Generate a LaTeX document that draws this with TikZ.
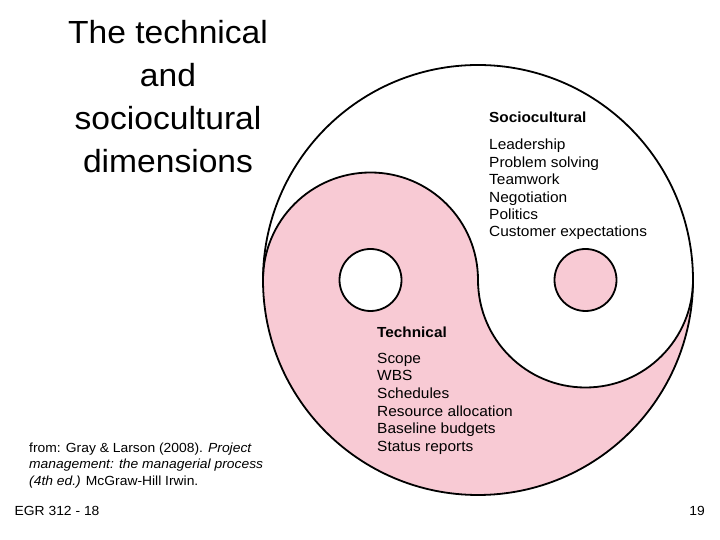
\documentclass[tikz,border=0pt]{standalone}
\usepackage{fontspec}
\setmainfont{Liberation Sans}[FakeStretch=1.05]
\definecolor{yypink}{RGB}{248,202,212}
\tikzset{
  yyline/.style={line width=1.8pt, draw=black},
  titletext/.style={anchor=base, inner sep=0pt, font=\fontsize{32}{38}\selectfont},
  listtext/.style={anchor=base west, inner sep=0pt, font=\fontsize{14.7}{17}\selectfont},
  headtext/.style={anchor=base west, inner sep=0pt, font=\fontsize{14.6}{17}\selectfont\bfseries},
  smalltext/.style={anchor=base west, inner sep=0pt, font=\fontsize{13.2}{15}\selectfont},
}
\begin{document}
\begin{tikzpicture}[x=1pt,y=1pt]
\useasboundingbox (0,0) rectangle (720,540);
% pink half of the yin-yang
\fill[yypink] (263,260) arc[start angle=180,end angle=360,radius=215]
  arc[start angle=0,end angle=-180,radius=107.5]
  arc[start angle=0,end angle=180,radius=107.5] -- cycle;
\draw[yyline] (478,260) circle[radius=215];
\draw[yyline] (263,260) arc[start angle=180,end angle=0,radius=107.5]
  arc[start angle=180,end angle=360,radius=107.5];
\filldraw[yyline, fill=white] (370.5,260) circle[radius=31];
\filldraw[yyline, fill=yypink] (585.5,260) circle[radius=31];
% title
\node[titletext] (t1) at (168,496.5) {The technical};
\node[titletext] (t2) at (168,453.5) {and};
\node[titletext] (t3) at (168,410.5) {sociocultural};
\node[titletext] (t4) at (168,367.5) {dimensions};
% sociocultural list
\node[headtext] (sh) at (489,417.3) {Sociocultural};
\foreach \t [count=\i from 0] in {Leadership,Problem solving,Teamwork,Negotiation,Politics,Customer expectations}
  \node[listtext] (s\i) at (489,390-17.35*\i) {\t};
% technical list
\node[headtext] (th) at (377,202.7) {Technical};
\foreach \t [count=\i from 0] in {Scope,WBS,Schedules,Resource allocation,Baseline budgets,Status reports}
  \node[listtext] (r\i) at (377,176.7-17.6*\i) {\t};
% citation
\node[smalltext] (c1) at (29,87.3) {from: Gray \& Larson (2008). \textit{Project}};
\node[smalltext] (c2) at (29,71) {\textit{management: the managerial process}};
\node[smalltext] (c3) at (29,54.3) {\textit{(4th ed.)} McGraw-Hill Irwin.};
\node[smalltext, anchor=base west] (egr) at (14.5,24.3) {EGR 312 - 18};
\node[smalltext, anchor=base east] (pg) at (705,24.3) {19};
\end{tikzpicture}
\end{document}
